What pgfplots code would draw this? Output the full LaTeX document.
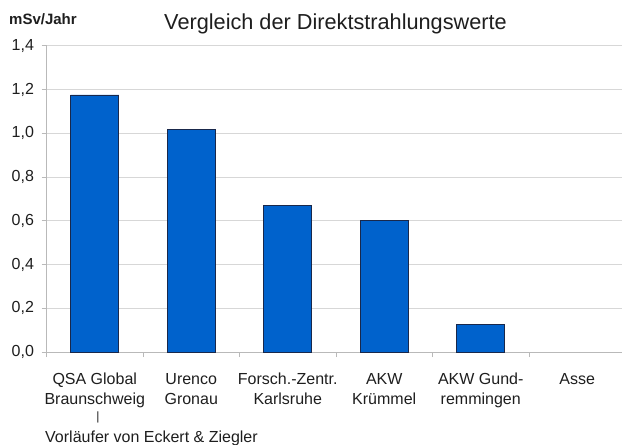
\documentclass[border=0pt]{standalone}
\usepackage{fontspec}
\setmainfont{Liberation Sans}
\usepackage{pgfplots}
\pgfplotsset{compat=1.18}
\definecolor{barblue}{RGB}{0,98,204}
\definecolor{baredge}{RGB}{25,40,75}
\definecolor{gridgray}{RGB}{215,215,215}
\definecolor{axisgray}{RGB}{185,185,185}
\definecolor{txt}{RGB}{30,30,30}
\begin{document}
\begin{tikzpicture}
\path[use as bounding box] (0,0) rectangle (622bp,445bp);
\begin{axis}[
  at={(46.5bp,93bp)}, anchor=south west,
  scale only axis, width=579bp, height=306bp,
  xmin=-0.5, xmax=5.5, ymin=0, ymax=1.4,
  axis x line*=bottom, axis y line*=left,
  axis line style={axisgray, line width=1pt},
  ybar, bar width=0.5,
  ytick={0,0.2,0.4,0.6,0.8,1.0,1.2,1.4},
  /pgf/number format/assume math mode=true,
  yticklabel={\pgfmathprintnumber[fixed,fixed zerofill,precision=1,use comma]{\tick}},
  yticklabel style={font=\fontsize{16bp}{19bp}\selectfont, text=txt, xshift=-4bp},
  ymajorgrids, grid style={gridgray, line width=1pt},
  xtick={0,1,2,3,4,5},
  xticklabels={{QSA Global\\Braunschweig},{Urenco\\Gronau},{Forsch.-Zentr.\\Karlsruhe},{AKW\\Krümmel},{AKW Gund-\\remmingen},{Asse}},
  xticklabel style={align=center, font=\fontsize{16bp}{20bp}\selectfont, text=txt, anchor=north, yshift=-12.5bp},
  major x tick style={draw=none},
  minor xtick={-0.5,0.5,1.5,2.5,3.5,4.5},
  tick align=outside,
  major tick length=5bp, minor tick length=5bp,
  tick style={axisgray, line width=1pt},
  minor x tick style={axisgray, line width=1pt},
  clip=false,
]
\addplot[fill=barblue, draw=baredge, line width=0.9pt] coordinates {
  (0,1.176) (1,1.020) (2,0.669) (3,0.601) (4,0.128)
};
\end{axis}
\node[anchor=base west, inner sep=0pt, text=txt, font=\fontsize{15bp}{18bp}\selectfont\bfseries] at (9bp,420bp) {mSv/Jahr};
\node[anchor=base, inner sep=0pt, text=txt, font=\fontsize{21.7bp}{25bp}\selectfont] at (335.5bp,415bp) {Vergleich der Direktstrahlungswerte};
\node[inner sep=0pt, text=txt, font=\fontsize{12bp}{14bp}\selectfont] at (98bp,28bp) {|};
\node[anchor=base west, inner sep=0pt, text=txt, font=\fontsize{16bp}{20bp}\selectfont] at (45bp,2.5bp) {Vorläufer von Eckert \& Ziegler};
\end{tikzpicture}
\end{document}
